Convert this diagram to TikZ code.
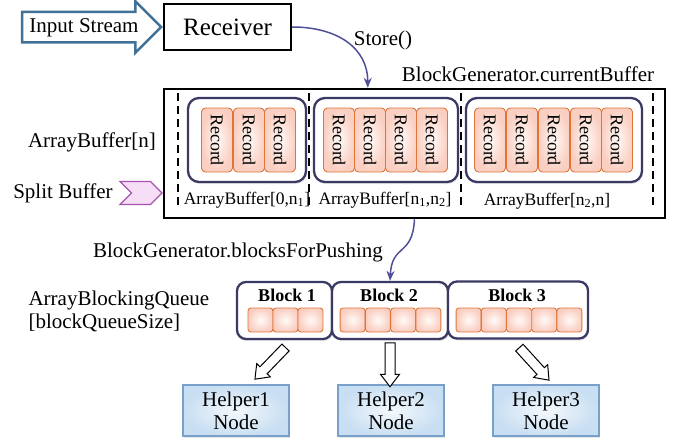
\documentclass[tikz,border=0pt]{standalone}
\usepackage{fontspec}
\setmainfont{Liberation Serif}
\usepackage{tikz}
\usetikzlibrary{shapes,arrows.meta,shadows}

\definecolor{grpblue}{RGB}{58,58,100}
\definecolor{flowblue}{RGB}{80,80,150}
\definecolor{recline}{RGB}{222,118,58}
\definecolor{recin}{RGB}{255,250,248}
\definecolor{recout}{RGB}{250,206,192}
\definecolor{hlpline}{RGB}{120,160,200}
\definecolor{hlpin}{RGB}{244,249,253}
\definecolor{hlpout}{RGB}{200,222,242}
\definecolor{inblue}{RGB}{65,113,150}
\definecolor{chevline}{RGB}{165,85,175}
\definecolor{chevfill}{RGB}{246,222,246}

\begin{document}
\begin{tikzpicture}[x=1pt,y=-1pt,font=\fontsize{21}{23}\selectfont]
	\tikzset{box/.style={draw,line width=2.2pt,inner sep=0pt}}
	\tikzset{grp/.style={draw=grpblue,line width=2.3pt,rounded corners=11pt,fill=white,inner sep=0pt,drop shadow={opacity=0.2,shadow xshift=1pt,shadow yshift=-2pt}}}
	\tikzset{blk/.style={grp,rounded corners=9pt,minimum height=57pt}}
	\tikzset{record/.style={draw=recline,line width=0.9pt,rounded corners=4pt,inner color=recin,outer color=recout,rotate=-90,minimum width=64pt,minimum height=31pt,inner sep=0pt,font=\fontsize{18}{20}\selectfont}}
	\tikzset{sq/.style={draw=recline,line width=0.9pt,rounded corners=3pt,inner color=recin,outer color=recout,minimum width=25pt,minimum height=24pt,inner sep=0pt}}
	\tikzset{small/.style={font=\fontsize{17.5}{19}\selectfont}}
	\tikzset{title/.style={font=\fontsize{18}{19}\selectfont\bfseries}}
	\tikzset{helper/.style={draw=hlpline,line width=1.2pt,inner color=hlpin,outer color=hlpout,minimum width=106pt,minimum height=51pt,inner sep=0pt,align=center,font=\fontsize{21}{23}\selectfont,drop shadow={opacity=0.2,shadow xshift=1pt,shadow yshift=-2pt}}}
	\tikzset{inarrow/.style={single arrow,draw=inblue,line width=2.5pt,fill=white,single arrow head extend=10.5pt,minimum height=139pt,text height=14pt,text depth=4pt,inner xsep=1pt,inner ysep=5pt}}
	\tikzset{hollow/.style={single arrow,draw,fill=white,line width=1pt,minimum height=44pt,text height=0pt,text depth=0pt,inner xsep=0pt,inner ysep=4.5pt,single arrow head extend=4.5pt,single arrow tip angle=75}}
	\tikzset{chev/.style={signal,signal to=east,signal from=west,draw=chevline,line width=1.4pt,fill=chevfill,minimum width=42pt,minimum height=23pt,inner sep=0pt}}
	\tikzset{flow/.style={draw=flowblue,line width=1.5pt,-{Stealth[length=10pt,width=8pt]}}}
	%\tikzset{every node/.style={draw=red}}
	\useasboundingbox (0,0) rectangle (689,447);

	\node[box,minimum width=127pt,minimum height=46pt,font=\fontsize{25}{28}\selectfont] (rcv) at (227.5,27) {Receiver};
	\node[inarrow,anchor=tip] (inp) at (rcv.west) {Input Stream};
	\node (sto) at (383,40) {Store()};
	\node (cur) at (528,74) {BlockGenerator.currentBuffer};

	\node[box,line width=2.5pt,minimum width=501pt,minimum height=129pt] (buf) at (414.5,153.5) {};
	\foreach \x in {178,309,461,653}
		\draw[line width=2.5pt,dash pattern=on 8pt off 5pt] (\x,93) -- (\x,207);
	\node[grp,minimum width=118pt,minimum height=84pt] (grp1) at (247,140) {};
	\node[grp,minimum width=144pt,minimum height=84pt] (grp2) at (386,140) {};
	\node[grp,minimum width=176pt,minimum height=84pt] (grp3) at (554,140) {};
	\foreach \x [count=\i] in {217,249,280,339,370,401,432,490,522,554,586,617}
		\node[record] (rec\i) at (\x,140) {Record};
	\node[small] (lab1) at (247,200) {ArrayBuffer[0,n\textsubscript{1}]};
	\node[small] (lab2) at (385,200) {ArrayBuffer[n\textsubscript{1},n\textsubscript{2}]};
	\node[small] (lab3) at (547,201) {ArrayBuffer[n\textsubscript{2},n]};

	\node (abn) at (92,142) {ArrayBuffer[n]};
	\node (spl) at (63,193) {Split Buffer};
	\node[chev] (chv) at (141,193) {};

	\node (bfp) at (238,252) {BlockGenerator.blocksForPushing};
	\node[align=left,anchor=west] (abq) at (25,311) {ArrayBlockingQueue\\{[blockQueueSize]}};

	\node[blk,minimum width=95pt] (blk1) at (284.5,310.5) {};
	\node[blk,minimum width=116pt] (blk2) at (390,310.5) {};
	\node[blk,minimum width=140pt] (blk3) at (518,310) {};
	\node[title] (ttl1) at (287,295) {Block 1};
	\node[title] (ttl2) at (389,295) {Block 2};
	\node[title] (ttl3) at (517,295) {Block 3};
	\foreach \x [count=\i] in {260.5,285.5,310.5,352.6,377.9,403.1,428.4,468.6,493.8,519,544.2,569.4}
		\node[sq] (sq\i) at (\x,320) {};

	\node[helper] (hlp1) at (236,410.5) {Helper1\\Node};
	\node[helper] (hlp2) at (391,410.5) {Helper2\\Node};
	\node[helper] (hlp3) at (546,410.5) {Helper3\\Node};
	\node[hollow,rotate=-134] (out1) at (272.5,361) {};
	\node[hollow,rotate=-90] (out2) at (390,361.5) {};
	\node[hollow,rotate=-47.7] (out3) at (532,361.5) {};

	\draw[flow] (rcv.east) .. controls +(45,0) and +(0,-40) .. ([xshift=205pt]buf.north west);
	\draw[flow] (buf.south) .. controls +(-2,38) and +(2,-38) .. (blk2.north);
\end{tikzpicture}
\end{document}
